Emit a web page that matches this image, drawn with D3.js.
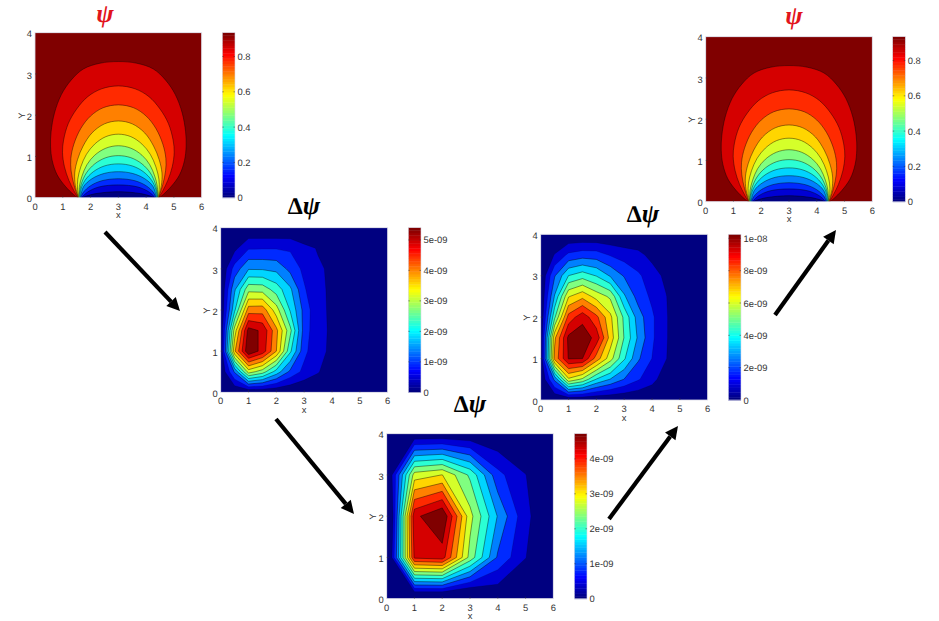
<!DOCTYPE html>
<html>
<head>
<meta charset="utf-8">
<style>
  html, body { margin: 0; padding: 0; background: #fff; }
  svg { display: block; }
  text { font-family: "Liberation Sans", Arial, sans-serif; fill: #333; text-rendering: geometricPrecision; }
</style>
<script src="https://cdn.jsdelivr.net/npm/d3@7"></script>
</head>
<body>
<svg id="chart" width="939" height="621"></svg>
<script>
// Axis ticks shared by every panel
const xTicks = [0, 1, 2, 3, 4, 5, 6];
const yTicks = [0, 1, 2, 3, 4];

// Potential psi: each contour is an arch symmetric about x = 3, listed as
// [half-width, y] from the crown to the foot, outermost level first.
const psiArches = [
  [[0,3.30],[0.66,3.26],[1.26,3.12],[1.7,2.85],[2.05,2.5],[2.3,2.05],[2.42,1.6],[2.44,1.25],[2.38,0.9],[2.2,0.55],[1.9,0.27],[1.62,0.08],[1.47,0]],
  [[0,2.71],[0.6,2.64],[1.1,2.45],[1.5,2.15],[1.8,1.8],[1.97,1.4],[2.01,1.1],[1.94,0.75],[1.78,0.42],[1.6,0.17],[1.46,0]],
  [[0,2.25],[0.55,2.18],[1.0,1.98],[1.35,1.68],[1.6,1.3],[1.71,0.95],[1.7,0.65],[1.6,0.32],[1.5,0.1],[1.45,0]],
  [[0,1.86],[0.5,1.79],[0.95,1.57],[1.27,1.25],[1.47,0.92],[1.57,0.6],[1.55,0.3],[1.48,0.1],[1.44,0]],
  [[0,1.54],[0.45,1.48],[0.85,1.3],[1.15,1.05],[1.35,0.75],[1.46,0.45],[1.47,0.2],[1.43,0]],
  [[0,1.26],[0.45,1.2],[0.85,1.03],[1.13,0.8],[1.31,0.52],[1.4,0.28],[1.42,0]],
  [[0,1.02],[0.45,0.97],[0.85,0.82],[1.15,0.6],[1.33,0.34],[1.4,0.12],[1.41,0]],
  [[0,0.82],[0.5,0.77],[0.9,0.63],[1.2,0.42],[1.35,0.2],[1.39,0]],
  [[0,0.63],[0.5,0.59],[0.95,0.46],[1.25,0.27],[1.37,0]],
  [[0,0.46],[0.6,0.41],[1.0,0.29],[1.26,0.13],[1.35,0]],
  [[0,0.31],[0.7,0.26],[1.1,0.14],[1.33,0]],
  [[0,0.145],[0.8,0.1],[1.15,0.04],[1.31,0]]
];

// Correction fields on coarse meshes, in units of 1e-9; the first row is y = 0.
const deltaFirst = [
  [0,0,0,0,0,0,0,0,0,0,0,0,0],
  [0,1.3,3.1,2.7,1.9,1.15,0.7,0.45,0.1,0,0,0,0],
  [0,3.67,5.35,4.82,3.74,2.15,0.95,0.48,0.37,0,0,0,0],
  [0,3.1,5.15,4.91,3.85,2.6,1.05,0.5,0.37,0,0,0,0],
  [0,2.0,3.95,3.98,3.1,2.03,1.1,0.47,0.38,0,0,0,0],
  [0,1.6,2.77,2.74,2.3,1.74,0.88,0.46,0.38,0,0,0,0],
  [0,1.0,1.63,1.62,1.55,1.12,0.72,0.46,0.36,0,0,0,0],
  [0,0.3,0.79,0.8,0.8,0.77,0.52,0.39,0.12,0,0,0,0],
  [0,0,0,0,0,0,0,0,0,0,0,0,0]
];
// Edge nodes below zero follow the contour spacing, which runs out before the boundary.
const deltaCoarse = [
  [0,-0.4,-0.4,-0.4,0,0,0],
  [-0.5,4.05,4.15,2.40,1.03,0.37,0],
  [-0.8,4.24,4.70,2.66,1.42,0.45,0],
  [-0.2,2.70,2.90,2.10,0.84,0.37,0],
  [0,0,0,0,0,0,0]
];
const deltaFine = [
  [0,0,0,0,0,0,0,0,0,0,0,0,0],
  [0,2.6,6.3,5.5,4.0,3.2,2.4,1.7,1.1,0.3,0,0,0],
  [0,7.5,9.75,9.7,7.75,6.0,4.15,2.55,1.6,0.85,0.1,0,0],
  [0,7.1,9.9,10.25,9.4,6.95,4.8,3.1,1.75,0.9,0.1,0,0],
  [0,4.7,8.4,9.4,8.3,6.67,4.65,2.85,1.75,0.9,0.12,0,0],
  [0,3.3,6.4,7.05,6.15,5.5,3.35,2.1,1.45,0.85,0.1,0,0],
  [0,2.35,4.05,4.5,4.0,3.15,2.35,1.75,1.2,0.6,0,0,0],
  [0,0.85,1.8,2.05,2.0,1.55,1.25,1.05,0.55,0.1,0,0,0],
  [0,0,0,0,0,0,0,0,0,0,0,0,0]
];

// Colour bar ticks and upper limits
const psiBarTicks = [0, 0.2, 0.4, 0.6, 0.8];
const firstBarTicks = [0, 1, 2, 3, 4, 5];
const coarseBarTicks = [0, 1, 2, 3, 4];
const fineBarTicks = [0, 2, 4, 6, 8, 10];
const expLabel = v => v === 0 ? "0" : v === 10 ? "1e-08" : `${v}e-09`;

const bandCount = 12;

const panels = [
  { kind: "psi", box: [35, 32.7, 201.7, 197.7], bar: [222.3, 235], max: 0.935,
    ticks: psiBarTicks, fmt: v => String(v), title: "psi", titleAt: [105, 22] },
  { kind: "delta", grid: deltaFirst, step: 5.4 / 13, box: [220.7, 227.7, 387.7, 392.3], bar: [408.3, 421], max: 5.4,
    ticks: firstBarTicks, fmt: expLabel, title: "delta", titleAt: [304, 214] },
  { kind: "delta", grid: deltaCoarse, step: 4.7 / 13, box: [386.7, 433.7, 553.3, 598.7], bar: [574.3, 587], max: 4.72,
    ticks: coarseBarTicks, fmt: expLabel, title: "delta", titleAt: [470, 412] },
  { kind: "delta", grid: deltaFine, step: 0.808, box: [540.7, 234.3, 707.7, 400], bar: [728.3, 741], max: 10.25,
    ticks: fineBarTicks, fmt: expLabel, title: "delta", titleAt: [643, 222] },
  { kind: "psi", box: [705.7, 36.7, 872.3, 201.7], bar: [892.7, 905.3], max: 0.935,
    ticks: psiBarTicks, fmt: v => String(v), title: "psi", titleAt: [794, 24] }
];

// MATLAB-style jet colour map, t in [0, 1]
const clamp01 = v => Math.max(0, Math.min(1, v));
function jet(t) {
  const r = clamp01(Math.min(4 * t - 1.5, -4 * t + 4.5));
  const g = clamp01(Math.min(4 * t - 0.5, -4 * t + 3.5));
  const b = clamp01(Math.min(4 * t + 0.5, -4 * t + 2.5));
  return d3.rgb(r * 255, g * 255, b * 255).formatHex();
}

const svg = d3.select("#chart");
const defs = svg.append("defs");

panels.forEach((p, i) => {
  const [x0, y0, x1, y1] = p.box;
  const x = d3.scaleLinear().domain([0, 6]).range([x0, x1]);
  const y = d3.scaleLinear().domain([0, 4]).range([y1, y0]);
  const g = svg.append("g");

  defs.append("clipPath").attr("id", `clip${i}`)
    .append("rect").attr("x", x0).attr("y", y0).attr("width", x1 - x0).attr("height", y1 - y0);

  const field = g.append("g").attr("clip-path", `url(#clip${i})`);

  if (p.kind === "psi") {
    // Dark red background, then each arch filled from the outside in
    field.append("rect").attr("x", x0).attr("y", y0).attr("width", x1 - x0).attr("height", y1 - y0)
      .attr("fill", jet(1));
    const line = d3.line().x(d => x(d[0])).y(d => y(d[1])).curve(d3.curveCatmullRom.alpha(0.5));
    psiArches.forEach((arch, k) => {
      const right = arch.map(([h, v]) => [3 + h, v]).reverse();
      const left = arch.slice(1).map(([h, v]) => [3 - h, v]);
      field.append("path")
        .attr("d", line(right.concat(left)))
        .attr("fill", jet((bandCount - 1 - k) / bandCount))
        .attr("stroke", "#000").attr("stroke-width", 0.6).attr("stroke-opacity", 0.7);
    });
  } else {
    // Filled contours of the mesh values, one threshold per colour band
    const rows = p.grid.length, cols = p.grid[0].length;
    const dx = 6 / (cols - 1), dy = 4 / (rows - 1);
    const thresholds = d3.range(1, bandCount + 1).map(k => k * p.step);
    const contours = d3.contours().size([cols, rows]).thresholds(thresholds)(p.grid.flat());
    const path = d3.geoPath(d3.geoTransform({
      point(cx, cy) { this.stream.point(x((cx - 0.5) * dx), y((cy - 0.5) * dy)); }
    }));
    field.append("rect").attr("x", x0).attr("y", y0).attr("width", x1 - x0).attr("height", y1 - y0)
      .attr("fill", jet(0));
    field.selectAll("path").data(contours).join("path")
      .attr("d", path)
      .attr("fill", (d, k) => jet((k + 1) / bandCount))
      .attr("stroke", "#000").attr("stroke-width", 0.6)
      .attr("stroke-opacity", (d, k) => k < 2 ? 0.25 : 0.7)
      .attr("stroke-linejoin", "round");
  }

  // Plot frame and axes
  g.append("rect").attr("x", x0).attr("y", y0).attr("width", x1 - x0).attr("height", y1 - y0)
    .attr("fill", "none").attr("stroke", "#d9d9e6").attr("stroke-width", 0.8);

  g.selectAll(".xt").data(xTicks).join("text")
    .attr("x", d => x(d)).attr("y", y1 + 12)
    .attr("text-anchor", "middle").attr("font-size", 9.4).text(d => d);
  g.selectAll(".yt").data(yTicks).join("text")
    .attr("x", x0 - 3).attr("y", d => y(d) + 4.7)
    .attr("text-anchor", "end").attr("font-size", 9.4).text(d => d);
  g.selectAll(".xm").data(xTicks.slice(1, -1)).join("line")
    .attr("x1", d => x(d)).attr("x2", d => x(d)).attr("y1", y1).attr("y2", y1 - 2)
    .attr("stroke", "#333").attr("stroke-width", 0.5);
  g.selectAll(".ym").data(yTicks.slice(1, -1)).join("line")
    .attr("x1", x0).attr("x2", x0 + 2).attr("y1", d => y(d)).attr("y2", d => y(d))
    .attr("stroke", "#333").attr("stroke-width", 0.5);

  g.append("text").attr("x", (x0 + x1) / 2).attr("y", y1 + 20.5)
    .attr("text-anchor", "middle").attr("font-size", 9.4).text("x");
  g.append("text")
    .attr("transform", `translate(${x0 - 10.5},${(y0 + y1) / 2 + 0.5}) rotate(-90)`)
    .attr("text-anchor", "middle").attr("font-size", 9.4).text("Y");

  // Colour bar: 64 steps of the map over the panel's value range
  const [b0, b1] = p.bar;
  const barScale = d3.scaleLinear().domain([0, p.max]).range([y1, y0]);
  const steps = d3.range(64);
  g.selectAll(".cell").data(steps).join("rect")
    .attr("x", b0).attr("width", b1 - b0)
    .attr("y", d => barScale((d + 1) / 64 * p.max))
    .attr("height", d => barScale(d / 64 * p.max) - barScale((d + 1) / 64 * p.max) + 0.4)
    .attr("fill", d => jet(d / 63));
  g.append("rect").attr("x", b0).attr("y", y0).attr("width", b1 - b0).attr("height", y1 - y0)
    .attr("fill", "none").attr("stroke", "#d9d9e6").attr("stroke-width", 0.6);
  g.selectAll(".bt").data(p.ticks).join("text")
    .attr("x", b1 + 2.5).attr("y", d => barScale(d) + 3.6)
    .attr("font-size", 9.4).text(p.fmt);
  g.selectAll(".bm").data(p.ticks.filter(d => d > 0)).join("path")
    .attr("d", d => `M${b0},${barScale(d)}h1.5M${b1},${barScale(d)}h-1.5`)
    .attr("stroke", "#333").attr("stroke-width", 0.5);

  // Panel heading
  const title = svg.append("text")
    .attr("x", p.titleAt[0]).attr("y", p.titleAt[1])
    .attr("text-anchor", "middle")
    .style("font-family", '"Liberation Serif", "DejaVu Serif", serif')
    .style("font-weight", "bold").style("font-size", "26px");
  if (p.title === "psi") {
    title.style("fill", "#e2141c").style("font-style", "italic").text("ψ");
  } else {
    title.style("fill", "#000");
    title.append("tspan").style("font-size", "24px").text("Δ");
    title.append("tspan").style("font-style", "italic").text("ψ");
  }
});

// Arrows that lead from one stage to the next
const arrows = [
  [[105, 232], [180, 311]],
  [[276, 419], [354, 514]],
  [[609, 519], [678, 426]],
  [[775, 315], [836, 230]]
];
arrows.forEach(([a, b]) => {
  const angle = Math.atan2(b[1] - a[1], b[0] - a[0]);
  const headLen = 13, headHalf = 6.5;
  const bx = b[0] - headLen * Math.cos(angle), by = b[1] - headLen * Math.sin(angle);
  svg.append("line").attr("x1", a[0]).attr("y1", a[1]).attr("x2", bx).attr("y2", by)
    .attr("stroke", "#000").attr("stroke-width", 4.2);
  const nx = -Math.sin(angle) * headHalf, ny = Math.cos(angle) * headHalf;
  svg.append("path")
    .attr("d", d3.line()([[b[0], b[1]], [bx + nx, by + ny], [bx - nx, by - ny]]) + "Z")
    .attr("fill", "#000");
});
</script>
</body>
</html>
